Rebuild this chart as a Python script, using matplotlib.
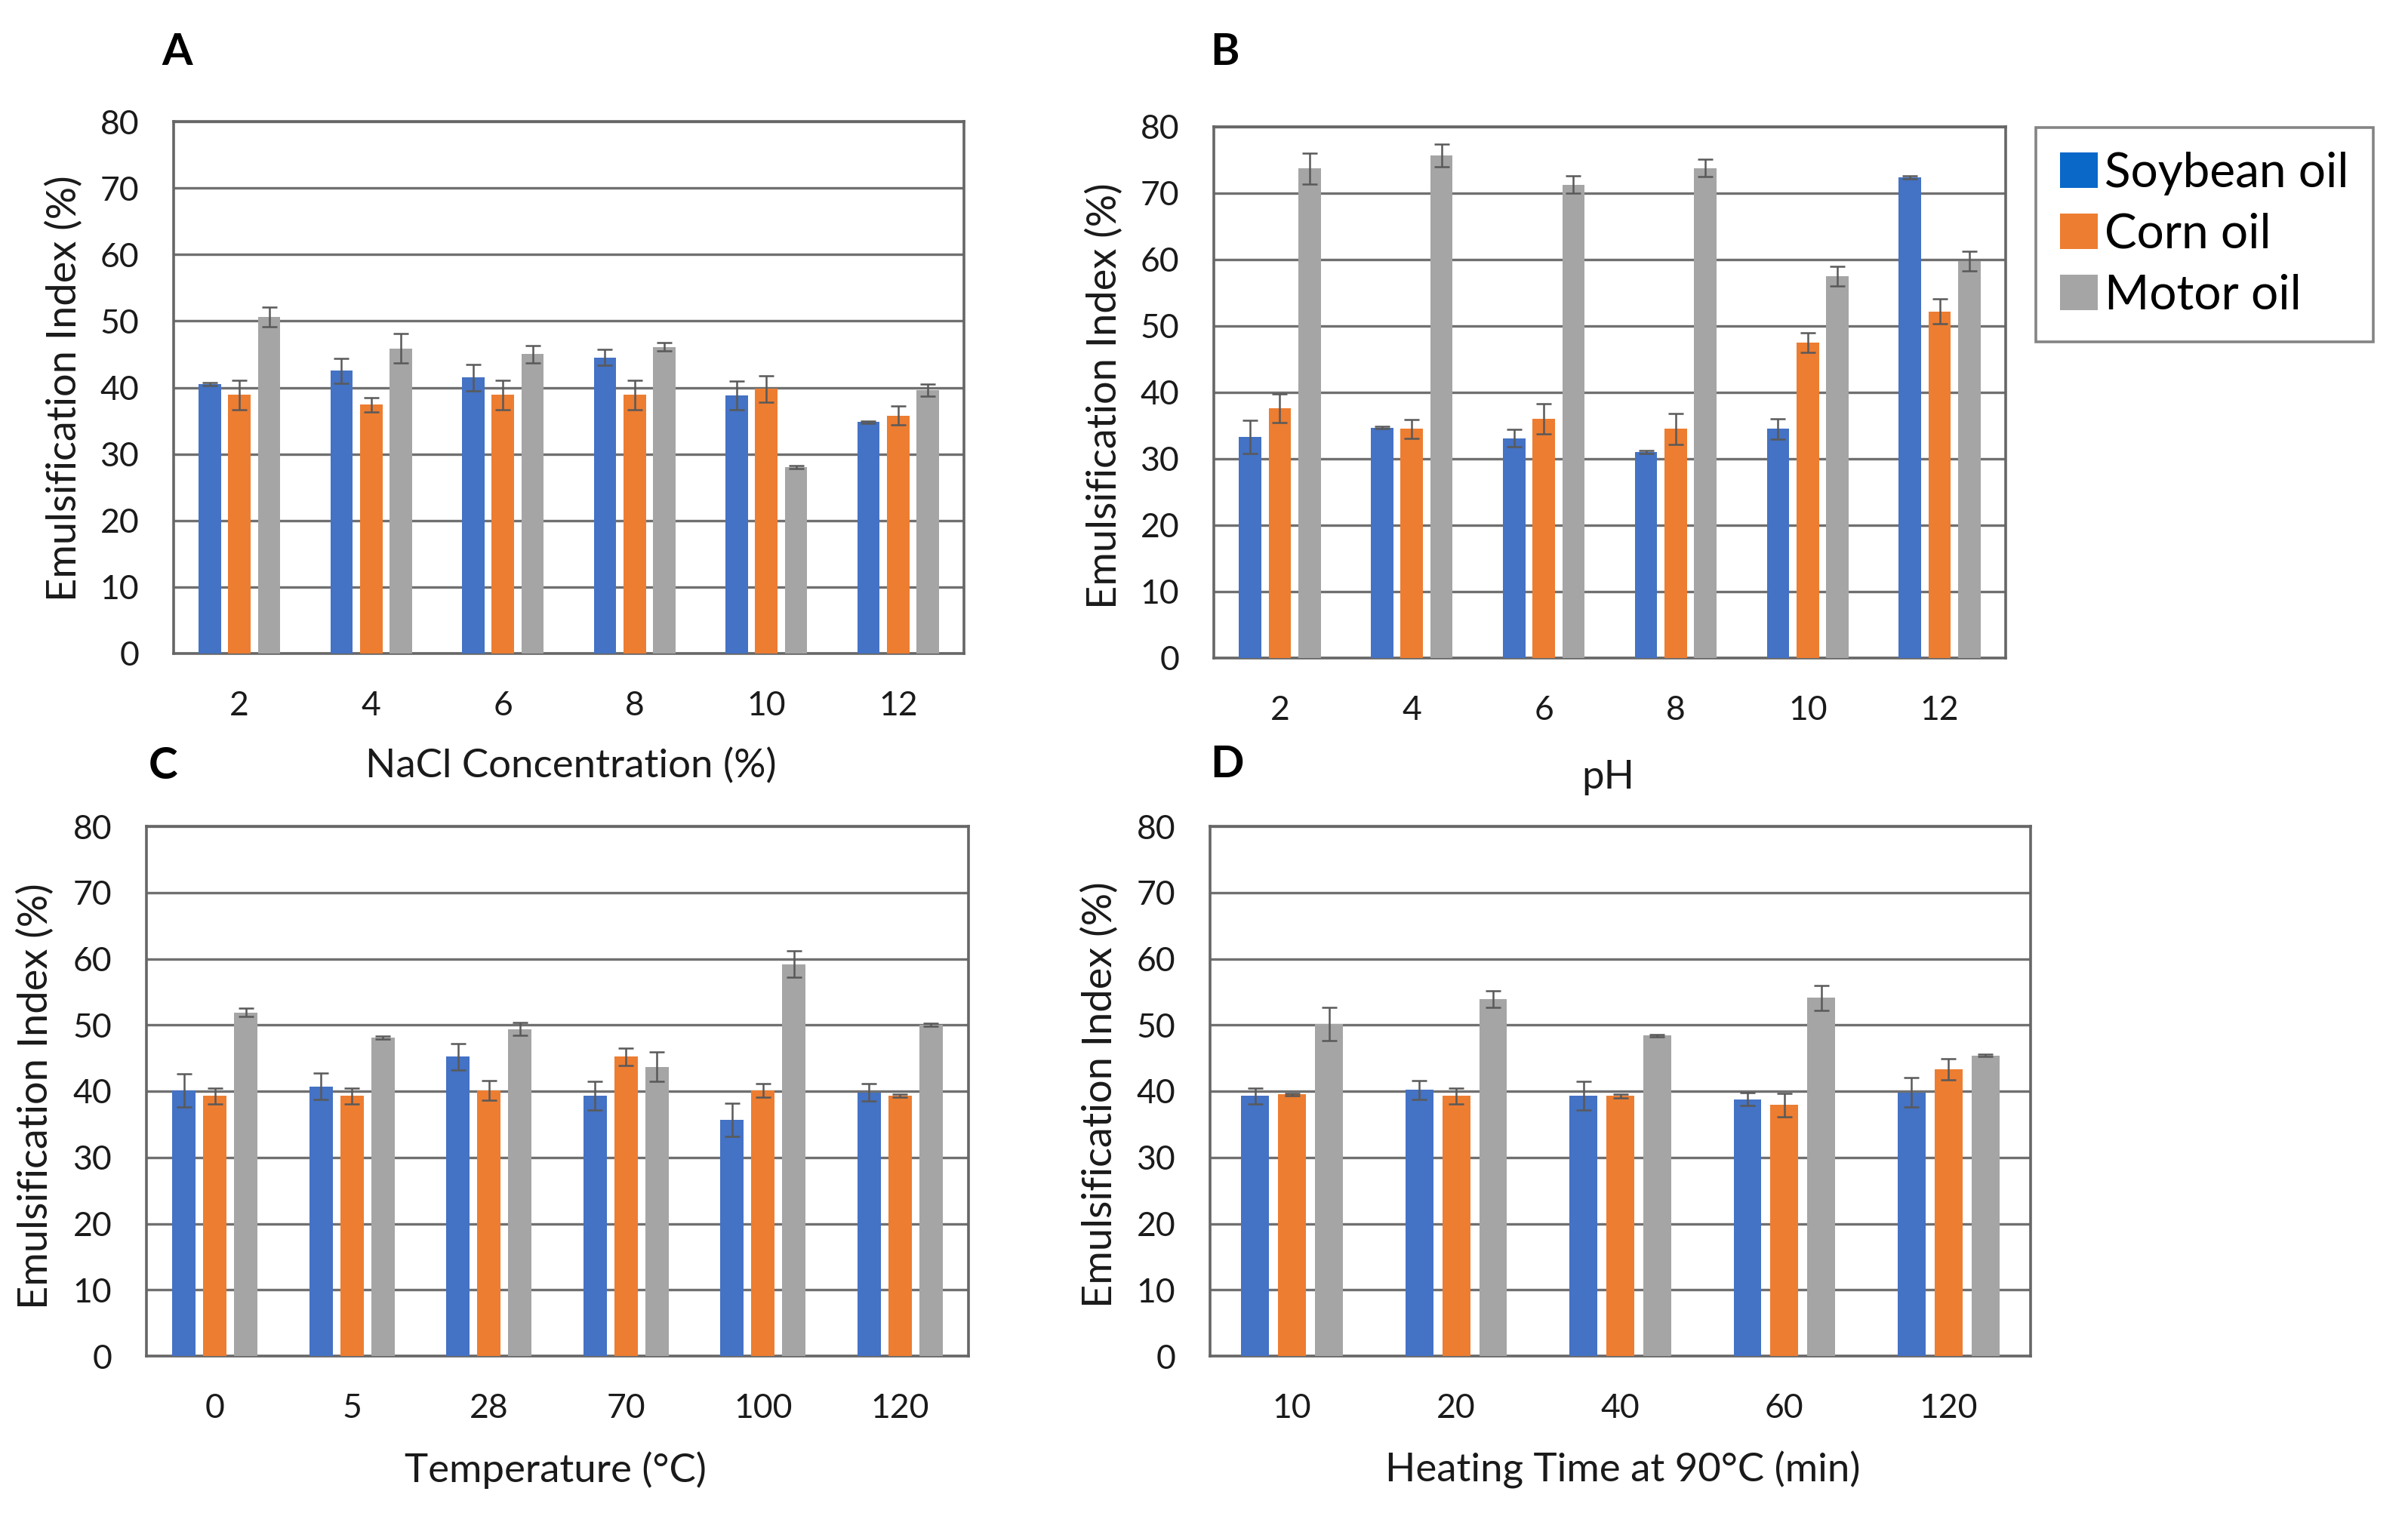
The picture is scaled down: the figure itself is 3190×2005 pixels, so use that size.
import numpy as np
import matplotlib
matplotlib.use("Agg")
import matplotlib.pyplot as plt
from matplotlib.patches import Patch

plt.rcParams['font.family'] = ['Lato', 'DejaVu Sans']

series = ["Soybean oil", "Corn oil", "Motor oil"]
colors = ["#4472C4", "#ED7D31", "#A5A5A5"]
legend_colors = ["#0a68c8", "#ED7D31", "#A5A5A5"]

# A - NaCl concentration
nacl = ["2", "4", "6", "8", "10", "12"]
nacl_soy = [40.5, 42.5, 41.5, 44.5, 38.8, 34.8]
nacl_corn = [38.9, 37.4, 38.9, 38.9, 39.8, 35.8]
nacl_motor = [50.6, 45.9, 45.0, 46.1, 28.0, 39.6]
nacl_soy_err = [0.2, 1.9, 2.0, 1.2, 2.2, 0.2]
nacl_corn_err = [2.2, 1.1, 2.2, 2.2, 2.0, 1.4]
nacl_motor_err = [1.5, 2.2, 1.3, 0.6, 0.2, 0.9]

# B - pH
ph = ["2", "4", "6", "8", "10", "12"]
ph_soy = [33.3, 34.7, 33.1, 31.0, 34.5, 72.4]
ph_corn = [37.6, 34.5, 36.0, 34.5, 47.5, 52.2]
ph_motor = [73.7, 75.7, 71.3, 73.8, 57.5, 59.8]
ph_soy_err = [2.5, 0.2, 1.3, 0.2, 1.5, 0.2]
ph_corn_err = [2.2, 1.4, 2.3, 2.3, 1.5, 1.9]
ph_motor_err = [2.3, 1.7, 1.3, 1.3, 1.5, 1.5]

# C - temperature
temp = ["0", "5", "28", "70", "100", "120"]
temp_soy = [40.1, 40.7, 45.2, 39.3, 35.7, 39.8]
temp_corn = [39.3, 39.3, 40.1, 45.2, 40.1, 39.3]
temp_motor = [51.9, 48.1, 49.4, 43.7, 59.2, 50.0]
temp_soy_err = [2.5, 2.0, 2.0, 2.2, 2.5, 1.3]
temp_corn_err = [1.2, 1.2, 1.5, 1.3, 1.0, 0.2]
temp_motor_err = [0.6, 0.2, 1.0, 2.2, 2.0, 0.2]

# D - heating time
heat = ["10", "20", "40", "60", "120"]
heat_soy = [39.3, 40.2, 39.3, 38.8, 39.8]
heat_corn = [39.5, 39.3, 39.3, 37.9, 43.3]
heat_motor = [50.1, 53.9, 48.4, 54.1, 45.4]
heat_soy_err = [1.2, 1.4, 2.2, 1.0, 2.2]
heat_corn_err = [0.2, 1.2, 0.3, 1.8, 1.6]
heat_motor_err = [2.5, 1.2, 0.2, 1.9, 0.2]

W, H = 3190, 2005
fig = plt.figure(figsize=(W / 100, H / 100), dpi=100)


def px_axes(l, t, r, b):
    return fig.add_axes([l / W, 1 - b / H, (r - l) / W, (b - t) / H])


def panel(ax, cats, vals, errs):
    x = np.arange(len(cats))
    width = 0.17
    offs = [-0.225, 0.0, 0.225]
    for i in range(3):
        ax.bar(x + offs[i], vals[i], width, color=colors[i], zorder=3,
               yerr=errs[i], capsize=7,
               error_kw=dict(ecolor="#595959", elinewidth=1.8, capthick=1.8, zorder=4))
    ax.set_ylim(0, 80)
    ax.set_xlim(-0.5, len(cats) - 0.5)
    ax.set_yticks(range(0, 81, 10))
    ax.set_xticks(x)
    ax.set_xticklabels(cats)
    ax.yaxis.grid(True, color="#707070", linewidth=2.4, zorder=0)
    ax.set_axisbelow(True)
    for s in ax.spines.values():
        s.set_color("#666666")
        s.set_linewidth(2.6)
    ax.tick_params(axis="both", length=0, labelsize=32, colors="#1a1a1a")
    ax.tick_params(axis="y", pad=33)
    ax.tick_params(axis="x", pad=35)


axA = px_axes(230, 161, 1277, 866)
panel(axA, nacl, [nacl_soy, nacl_corn, nacl_motor],
      [nacl_soy_err, nacl_corn_err, nacl_motor_err])
axB = px_axes(1608, 168, 2657, 872)
panel(axB, ph, [ph_soy, ph_corn, ph_motor],
      [ph_soy_err, ph_corn_err, ph_motor_err])
axC = px_axes(194, 1095, 1283, 1797)
panel(axC, temp, [temp_soy, temp_corn, temp_motor],
      [temp_soy_err, temp_corn_err, temp_motor_err])
axD = px_axes(1603, 1095, 2690, 1797)
panel(axD, heat, [heat_soy, heat_corn, heat_motor],
      [heat_soy_err, heat_corn_err, heat_motor_err])

ylab = "Emulsification Index (%)"
for xp, yc in [(85, 515), (1463, 525), (47, 1453), (1457, 1451)]:
    fig.text(xp / W, 1 - yc / H, ylab, rotation=90, ha="center", va="center",
             fontsize=39, color="#1a1a1a")

for txt, xp, yp in [("NaCl Concentration (%)", 756, 1015), ("pH", 2130, 1030),
                    ("Temperature (°C)", 736, 1948),
                    ("Heating Time at 90°C (min)", 2150, 1948)]:
    fig.text(xp / W, 1 - yp / H, txt, ha="center", va="center",
             fontsize=38, color="#1a1a1a")

for txt, xp, yp in [("A", 235, 70), ("B", 1622, 70), ("C", 216, 1015), ("D", 1625, 1014)]:
    fig.text(xp / W, 1 - yp / H, txt, ha="center", va="center",
             fontsize=42, fontweight="bold", color="black")

handles = [Patch(facecolor=c, edgecolor="none") for c in legend_colors]
leg = fig.legend(handles, series, loc="upper left",
                 bbox_to_anchor=(2697 / W, 1 - 169 / H), fontsize=46,
                 frameon=True, fancybox=False, handlelength=0.78, handleheight=0.75,
                 handletextpad=0.15, labelspacing=0.36, borderpad=0.5,
                 borderaxespad=0)
leg.get_frame().set_edgecolor("#666666")
leg.get_frame().set_linewidth(2.6)

fig.savefig("out.png", dpi=100)
